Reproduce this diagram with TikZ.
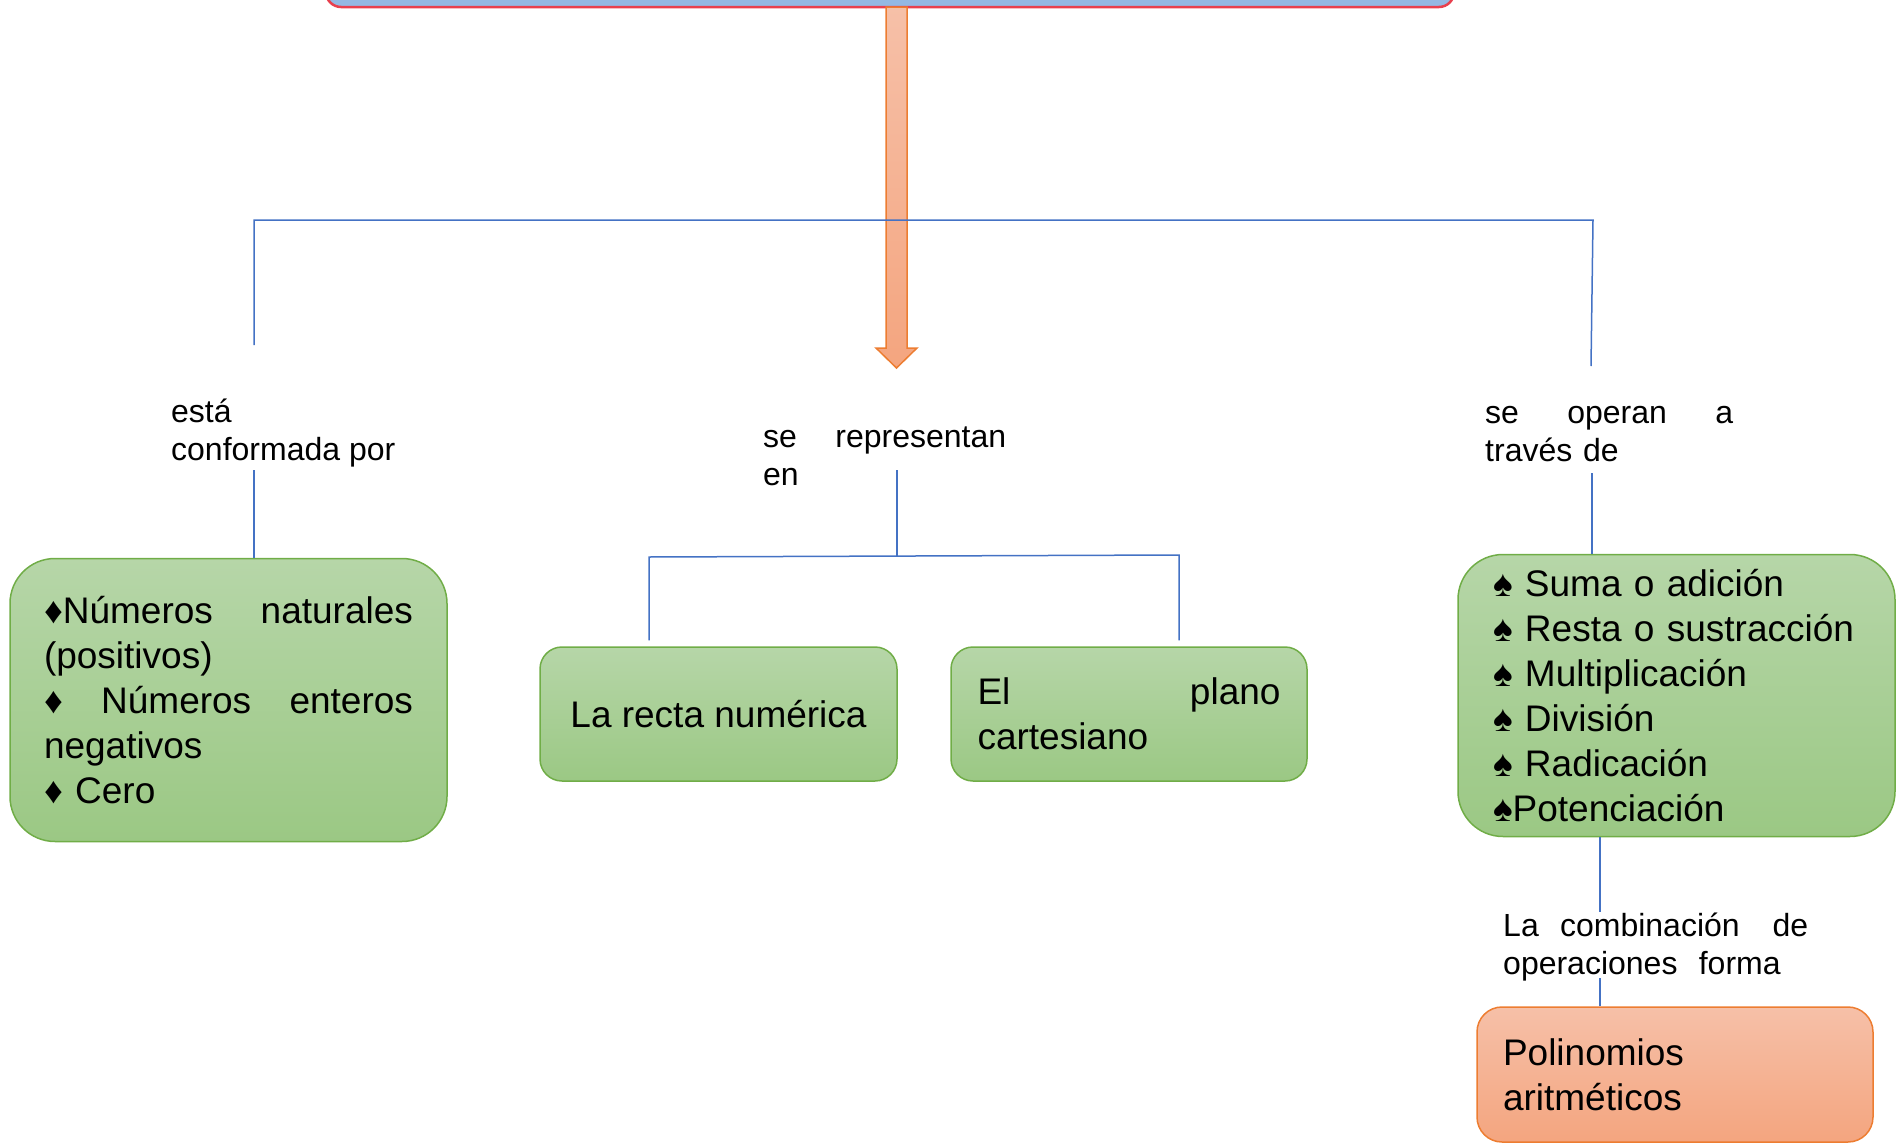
\documentclass[tikz,border=0pt]{standalone}
\usepackage{fontspec}
\setmainfont{Liberation Sans}
\usepackage{tikz}
\usetikzlibrary{calc}
\usetikzlibrary{positioning}
\definecolor{linea}{HTML}{4472C4}
\definecolor{verdeclaro}{HTML}{B6D6A8}
\definecolor{verdeoscuro}{HTML}{9BC884}
\definecolor{verdeborde}{HTML}{70AD47}
\definecolor{naranjaclaro}{HTML}{F6C0A8}
\definecolor{naranjaoscuro}{HTML}{F4A57F}
\definecolor{naranjaborde}{HTML}{ED7D31}
\definecolor{azultema}{HTML}{94B8E3}
\definecolor{rojotema}{HTML}{E8404E}
\tikzset{conector/.style={draw=linea,line width=1.5pt}}
\tikzset{caja/.style={rectangle,rounded corners=45pt,draw=verdeborde,line width=1.5pt,top color=verdeclaro,bottom color=verdeoscuro,font=\fontsize{37}{45}\selectfont,align=left}}
\tikzset{polcaja/.style={caja,rounded corners=25pt,draw=naranjaborde,top color=naranjaclaro,bottom color=naranjaoscuro}}
\tikzset{etiqueta/.style={anchor=north west,inner sep=0pt,align=left,font=\fontsize{32}{38}\selectfont}}
\tikzset{flecha/.style={draw=naranjaborde,line width=1.5pt,top color=naranjaclaro,bottom color=naranjaoscuro}}

\begin{document}
\begin{tikzpicture}[x=1pt,y=-1pt]

\useasboundingbox (0,0) rectangle (1896,1143);
\clip (0,0) rectangle (1896,1143);

\node[rectangle,rounded corners=15pt,draw=rojotema,line width=2.5pt,fill=azultema,minimum width=1128pt,minimum height=200pt] (tema) at (890,-93) {};
\shadedraw[flecha] (886,7) -- (907,7) -- (907,348) -- (917,348) -- (896.5,368) -- (876,348) -- (886,348) -- cycle;

% ramas
\coordinate (b1) at (254,220);
\coordinate (b3) at (1593,220);
\coordinate (c1) at (254,345);
\coordinate (c3) at (1591,366);
\draw[conector] (c1) -- (b1) -- (b3) -- (c3);

\node[etiqueta] (lab1) at (171,391) {\rule{0pt}{31pt}está\\conformada por};
\node[etiqueta,text width=243pt] (lab2) at (763,416) {\rule{0pt}{31pt}se\hfill representan\\en};
\node[etiqueta,text width=248pt] (lab3) at (1485,392) {\rule{0pt}{31pt}se\hfill operan\hfill a\\través de};

\node[caja,text width=369pt,inner xsep=34pt,minimum height=283pt] (izq) at (228.5,700)
  {♦Números\hfill naturales\\(positivos)\\♦\hfill Números\hfill enteros\\negativos\\♦ Cero};

\coordinate (c1b) at (254,470);
\draw[conector] (c1b) -- (c1b |- izq.north);

% next panel

\node[caja,rounded corners=22pt,minimum width=357pt,minimum height=134pt,align=center] (recta) at (718.5,714) {La recta numérica};
\node[caja,rounded corners=22pt,text width=303pt,inner xsep=26.5pt,minimum height=134pt] (plano) at (1129,714) {El\hfill plano\\cartesiano};

\coordinate (c2) at (897,470);
\coordinate (h1) at (649,557);
\coordinate (h2) at (1179,555);
\draw[conector] (c2) -- (c2 |- h1);
\draw[conector] ($(h1 |- recta.north)+(0,-6)$) -- (h1) -- (h2) -- ($(h2 |- plano.north)+(0,-6)$);

% next panel

\node[caja,text width=367pt,inner xsep=35pt,minimum height=282pt] (der) at (1676.5,695.5)
  {♠ Suma o adición\\♠ Resta o sustracción\\♠ Multiplicación\\♠ División\\♠ Radicación\\♠Potenciación};

\coordinate (c3b) at (1592,473);
\draw[conector] (c3b) -- (c3b |- der.north);

\node[etiqueta,text width=305pt] (lab4) at (1503,905) {\rule{0pt}{31pt}La\ \ combinación\hfill de\\operaciones\ \ forma};

\node[polcaja,text width=344pt,inner xsep=26pt,minimum height=135pt] (pol) at (1675,1074.5) {Polinomios\\aritméticos};

\coordinate (c4) at (1600,912);
\coordinate (c4b) at (1600,978);
\draw[conector] (c4 |- der.south) -- (c4);
\draw[conector] (c4b) -- (c4b |- pol.north);

\end{tikzpicture}
\end{document}
